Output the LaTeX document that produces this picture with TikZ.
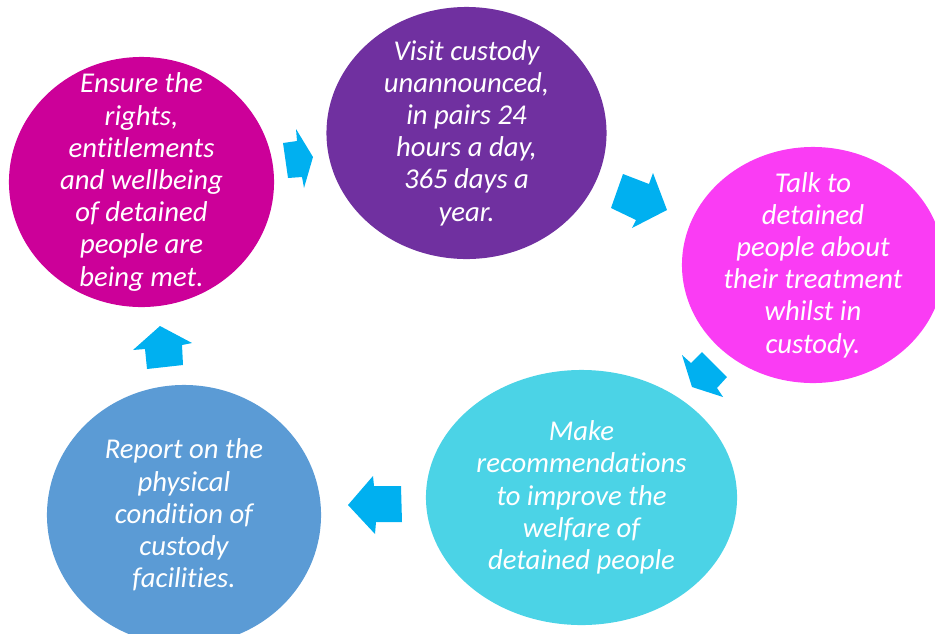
\documentclass[tikz,border=0pt]{standalone}
\usepackage{fontspec}
\setmainfont{Carlito}[Ligatures=NoCommon]
\usetikzlibrary{shapes.geometric}
\definecolor{rights}{HTML}{CC0099}
\definecolor{visit}{HTML}{7030A0}
\definecolor{talk}{HTML}{FA3CF4}
\definecolor{recommend}{HTML}{4BD3E6}
\definecolor{report}{HTML}{5B9BD5}
\definecolor{arrowblue}{HTML}{00B0F0}
\begin{document}
\begin{tikzpicture}[x=0.025cm,y=-0.025cm]
    \path[use as bounding box, clip] (0,0) rectangle (935,633);

    \begin{scope}[every node/.style={ellipse, draw=none, inner sep=0pt}]
        \node[fill=rights, minimum width=6.625cm, minimum height=6.25cm] (1) at (141.5,182) {};
        \node[fill=visit, minimum width=7cm, minimum height=6.3cm] (2) at (466.5,133) {};
        \node[fill=talk, minimum width=6.55cm, minimum height=5.9cm] (3) at (813,265) {};
        \node[fill=recommend, minimum width=7.775cm, minimum height=6.375cm] (4) at (581.5,497.5) {};
        \node[fill=report, minimum width=6.85cm, minimum height=6.5cm] (5) at (184,515) {};
    \end{scope}

    \begin{scope}[every node/.style={text=white, align=center, inner sep=0pt, font=\fontsize{20.4}{22.9}\selectfont\itshape}]
        \node at (1) {Ensure the\\rights,\\entitlements\\and wellbeing\\of detained\\people are\\being met.};
        \node at (2) {Visit custody\\unannounced,\\in pairs 24\\hours a day,\\365 days a\\year.};
        \node at (3) {Talk to\\detained\\people about\\their treatment\\whilst in\\custody.};
        \node at (4) {Make\\recommendations\\to improve the\\welfare of\\detained people};
        \node at (5) {Report on the\\physical\\condition of\\custody\\facilities.};
    \end{scope}

    \begin{scope}[every path/.style={fill=arrowblue}]
        \path (283,143) -- (297,141) -- (296,129) -- (313,157) -- (304,188) -- (302,177) -- (288,178) -- cycle;
        \path (623,174) -- (649,184) -- (653,173) -- (667,210) -- (632,228) -- (636,220) -- (611,208) -- cycle;
        \path (702,352) -- (727,377) -- (717,388) -- (723,397) -- (692,387) -- (682,355) -- (691,363) -- cycle;
        \path (401,486) -- (402,522) -- (376,522) -- (375,534) -- (348,505) -- (373,476) -- (374,486) -- cycle;
        \path (147,369) -- (145,349) -- (133,350) -- (160,326) -- (192,343) -- (182,345) -- (183,365) -- cycle;
    \end{scope}
\end{tikzpicture}
\end{document}
